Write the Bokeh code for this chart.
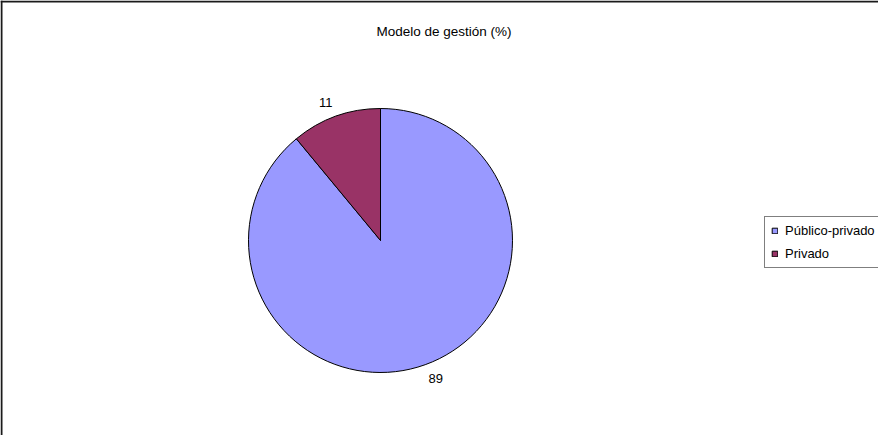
import numpy as np
from bokeh.plotting import figure
from bokeh.models import Range1d, ColumnDataSource, Legend, LegendItem, Label, Span
from bokeh.core.properties import value
from bokeh.embed import file_html
from bokeh.resources import INLINE

# ---- data ----
categories = ["Público-privado", "Privado"]
values = [89, 11]
colors = ["#9999FF", "#993366"]
title_text = "Modelo de gestión (%)"

W, H = 878, 435
FONT = "Liberation Sans"

p = figure(width=W, height=H, output_backend="svg", toolbar_location=None,
           x_range=Range1d(0, W), y_range=Range1d(0, H), min_border=0)
p.axis.visible = False
p.grid.visible = False
p.outline_line_color = None
p.background_fill_color = "white"
p.border_fill_color = "white"

# chart-area frame (right / bottom edges lie outside the visible window in the reference)
p.add_layout(Span(location=1, dimension="height", line_color="#1a1a1a", line_width=2))
p.add_layout(Span(location=H - 1, dimension="width", line_color="#1a1a1a", line_width=2))

vals = np.array(values, dtype=float)
frac = vals / vals.sum()
cum = np.cumsum(frac)
prev = np.concatenate([[0.0], cum[:-1]])
start = np.pi / 2 - 2 * np.pi * prev
end = np.pi / 2 - 2 * np.pi * cum
mid = (start + end) / 2

cx, cy, R = 380, 195, 132
src = ColumnDataSource(dict(cat=categories, val=values, color=colors,
                            start=start, end=end))
r = p.wedge(x=cx, y=cy, radius=R, start_angle="start", end_angle="end",
            direction="clock", fill_color="color", line_color="#000000",
            line_width=1, source=src)

RL = 142
lx = cx + RL * np.cos(mid)
ly = cy + RL * np.sin(mid)
lsrc = ColumnDataSource(dict(
    x=lx, y=ly, t=[str(v) for v in values],
    align=["left" if c >= 0 else "right" for c in np.cos(mid)],
    base=["top" if s < 0 else "bottom" for s in np.sin(mid)]))
p.text(x="x", y="y", text="t", source=lsrc, text_align="align",
       text_baseline="base", text_font=value(FONT), text_font_size="13px",
       text_color="#000000")

p.add_layout(Label(x=443.5, y=H - 30.7, x_units="screen", y_units="screen",
                   text=title_text, text_align="center", text_baseline="alphabetic",
                   text_font=FONT, text_font_size="13.5px", text_color="#000000"))

items = [LegendItem(label=c, renderers=[r], index=i) for i, c in enumerate(categories)]
leg = Legend(items=items, location=(764, 167), orientation="vertical",
             glyph_width=7, glyph_height=7, label_height=10, label_standoff=7,
             spacing=8, padding=6, margin=0,
             label_text_font=FONT, label_text_font_size="13px",
             label_text_color="#000000", label_text_baseline="middle",
             border_line_color="#000000", border_line_width=1,
             background_fill_color="white", background_fill_alpha=1)
p.add_layout(leg, "center")

open("out.html", "w").write(file_html(p, INLINE))
